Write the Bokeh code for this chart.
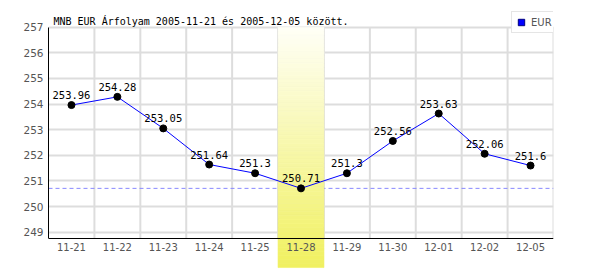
from bokeh.plotting import figure
from bokeh.models import (Range1d, LinearAxis, FixedTicker, Grid, Label, Legend, LegendItem)
from bokeh.embed import file_html
from bokeh.resources import INLINE
from bokeh.core.properties import value

# ---- data ----
dates = ["11-21", "11-22", "11-23", "11-24", "11-25", "11-28",
         "11-29", "11-30", "12-01", "12-02", "12-05"]
rates = [253.96, 254.28, 253.05, 251.64, 251.3, 250.71,
         251.3, 252.56, 253.63, 252.06, 251.6]
y_ticks = [249, 250, 251, 252, 253, 254, 255, 256, 257]
highlight = "11-28"
title_text = "MNB EUR Árfolyam 2005-11-21 és 2005-12-05 között."
series_name = "EUR"

# ---- geometry ----
Y_TOP, Y_BOT = 258.04, 247.505
Y_AXIS = 248.755
xs = [i + 0.5 for i in range(len(dates))]

p = figure(width=600, height=270, output_backend="svg", toolbar_location=None,
           x_axis_type=None, y_axis_type=None,
           x_range=Range1d(0, len(dates)), y_range=Range1d(Y_BOT, Y_TOP),
           min_border_left=48, min_border_right=47, min_border_top=0, min_border_bottom=0)
p.outline_line_color = None
p.background_fill_color = "white"
p.border_fill_color = "white"

# horizontal grid
ygrid = Grid(dimension=1, ticker=FixedTicker(ticks=y_ticks),
             grid_line_color="#dddddd", grid_line_width=2)
p.add_layout(ygrid)

# vertical grid segments at category boundaries
bx = list(range(1, len(dates) + 1))
p.segment(x0=bx, x1=bx, y0=[Y_AXIS] * len(bx), y1=[y_ticks[-1]] * len(bx),
          line_color="#dddddd", line_width=2)

# dashed line at minimum
mn = min(rates)
p.segment(x0=[0], x1=[len(dates)], y0=[mn], y1=[mn],
          line_color="#8888ff", line_width=1, line_dash="4 3")

# highlight band with vertical gradient
hi = dates.index(highlight)
band_top, band_bot = y_ticks[-1], 247.62
n = 60
tops, bots, cols = [], [], []
c0, c1 = (255, 255, 246), (240, 240, 96)
for k in range(n):
    t = k / (n - 1)
    tops.append(band_top - (band_top - band_bot) * k / n)
    bots.append(band_top - (band_top - band_bot) * (k + 1) / n)
    c = tuple(int(round(c0[j] + (c1[j] - c0[j]) * t)) for j in range(3))
    cols.append("#%02x%02x%02x" % c)
p.quad(left=[hi] * n, right=[hi + 1] * n, top=tops, bottom=bots,
       fill_color=cols, line_color=cols, line_width=0.6)

# series
p.line(xs, rates, line_color="#0000ff", line_width=1)
p.scatter(xs, rates, size=7, fill_color="black", line_color="black")
p.text(xs, rates, text=[("%g" % v) for v in rates], y_offset=-6,
       text_align="center", text_baseline="bottom",
       text_font=value("DejaVu Sans Mono"), text_font_size="10.5px", text_color="black")

# axes
yaxis = LinearAxis(ticker=FixedTicker(ticks=y_ticks), bounds=(Y_AXIS, y_ticks[-1]),
                   major_tick_out=0, major_tick_in=0, minor_tick_out=0, minor_tick_in=0,
                   major_label_standoff=5, axis_line_color="black", axis_line_width=1,
                   major_label_text_font="DejaVu Sans", major_label_text_font_size="10.5px",
                   major_label_text_color="#555555")
p.add_layout(yaxis, "left")

xaxis = LinearAxis(ticker=FixedTicker(ticks=xs), fixed_location=Y_AXIS,
                   bounds=(0, len(dates)),
                   major_label_overrides={x: d for x, d in zip(xs, dates)},
                   major_tick_out=0, major_tick_in=0, minor_tick_out=0, minor_tick_in=0,
                   major_label_standoff=5, axis_line_color="black", axis_line_width=1,
                   major_label_text_font="DejaVu Sans", major_label_text_font_size="10px",
                   major_label_text_color="#555555")
p.add_layout(xaxis, "below")

# title
p.add_layout(Label(x=5, y=249, x_units="screen", y_units="screen", text=title_text,
                   text_font="DejaVu Sans Mono", text_font_size="10px",
                   text_color="black", text_baseline="alphabetic"))

# legend (swatch renderer sits outside the visible range)
dummy = p.scatter(x=[-100], y=[0], marker="square", size=7,
                  fill_color="#0000ff", line_color="#000080")
legend = Legend(items=[LegendItem(label=series_name, renderers=[dummy])],
                location=(463, 237), padding=1, margin=0, spacing=0,
                glyph_width=16, glyph_height=18, label_height=18, label_standoff=2,
                label_text_font="DejaVu Sans", label_text_font_size="10px",
                label_text_color="#555555", border_line_color="#cccccc",
                border_line_width=1, background_fill_color="white", background_fill_alpha=1)
p.add_layout(legend)

open("out.html", "w").write(file_html(p, INLINE))
